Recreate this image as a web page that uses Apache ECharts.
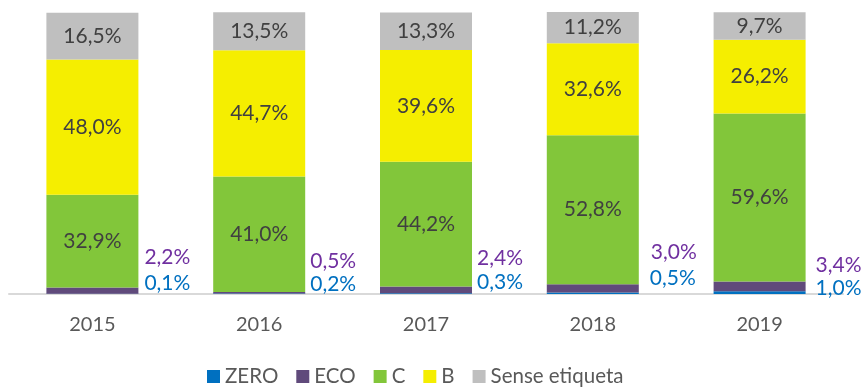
<!DOCTYPE html>
<html>
<head>
<meta charset="utf-8">
<script src="https://cdn.jsdelivr.net/npm/echarts@6/dist/echarts.min.js"></script>
<style>
  html, body { margin: 0; padding: 0; background: #ffffff; }
  #chart { width: 864px; height: 390px; }
</style>
</head>
<body>
<div id="chart"></div>
<script>
// Share of vehicles by environmental label, per year (%)
const years = ['2015', '2016', '2017', '2018', '2019'];
const zero = [0.1, 0.2, 0.3, 0.5, 1.0];
const eco = [2.2, 0.5, 2.4, 3.0, 3.4];
const labelC = [32.9, 41.0, 44.2, 52.8, 59.6];
const labelB = [48.0, 44.7, 39.6, 32.6, 26.2];
const noLabel = [16.5, 13.5, 13.3, 11.2, 9.7];

const fmt = v => v.toFixed(1).replace('.', ',') + '%';
const FONT = 'Lato, "Open Sans", sans-serif';

// Small segments get their labels beside the bar, nudged upward
const ecoShift = [[1, -33], [0, -31], [0, -32], [7, -36], [5, -21]];
const zeroShift = [[1, -11], [0, -9], [0, -11], [6, -15], [5, -4]];

function sideData(values, shifts) {
  return values.map((v, i) => ({
    value: v,
    label: { offset: shifts[i] }
  }));
}

const insideLabel = {
  show: true,
  position: 'inside',
  color: '#404040',
  fontSize: 21,
  fontFamily: FONT,
  formatter: p => fmt(p.value)
};

const chart = echarts.init(document.getElementById('chart'));
chart.setOption({
  animation: false,
  grid: { left: 9, right: 21, top: 12, bottom: 96 },
  legend: {
    top: 361,
    left: 202,
    itemWidth: 13,
    itemHeight: 13,
    itemGap: 18,
    icon: 'rect',
    textStyle: { color: '#595959', fontSize: 20.5, fontFamily: FONT },
    data: ['ZERO', 'ECO', 'C', 'B', 'Sense etiqueta']
  },
  xAxis: {
    type: 'category',
    data: years,
    axisLine: { lineStyle: { color: '#D9D9D9', width: 2 } },
    axisTick: { show: false },
    axisLabel: { color: '#595959', fontSize: 20, fontFamily: FONT, margin: 21 }
  },
  yAxis: {
    type: 'value',
    min: 0,
    max: 100,
    show: false,
    splitLine: { show: false }
  },
  series: [
    {
      name: 'ZERO', type: 'bar', stack: 'total', barWidth: 92,
      itemStyle: { color: '#0070C0' },
      label: {
        show: true, position: 'right', distance: 5,
        color: '#0070C0', fontSize: 21, fontFamily: FONT,
        formatter: p => fmt(p.value)
      },
      data: sideData(zero, zeroShift)
    },
    {
      name: 'ECO', type: 'bar', stack: 'total',
      itemStyle: { color: '#604A7B' },
      label: {
        show: true, position: 'right', distance: 5,
        color: '#7030A0', fontSize: 21, fontFamily: FONT,
        formatter: p => fmt(p.value)
      },
      data: sideData(eco, ecoShift)
    },
    {
      name: 'C', type: 'bar', stack: 'total',
      itemStyle: { color: '#82C63A' },
      label: insideLabel,
      data: labelC
    },
    {
      name: 'B', type: 'bar', stack: 'total',
      itemStyle: { color: '#F5EE00' },
      label: insideLabel,
      data: labelB
    },
    {
      name: 'Sense etiqueta', type: 'bar', stack: 'total',
      itemStyle: { color: '#BFBFBF' },
      label: insideLabel,
      data: noLabel
    }
  ]
});
</script>
</body>
</html>
